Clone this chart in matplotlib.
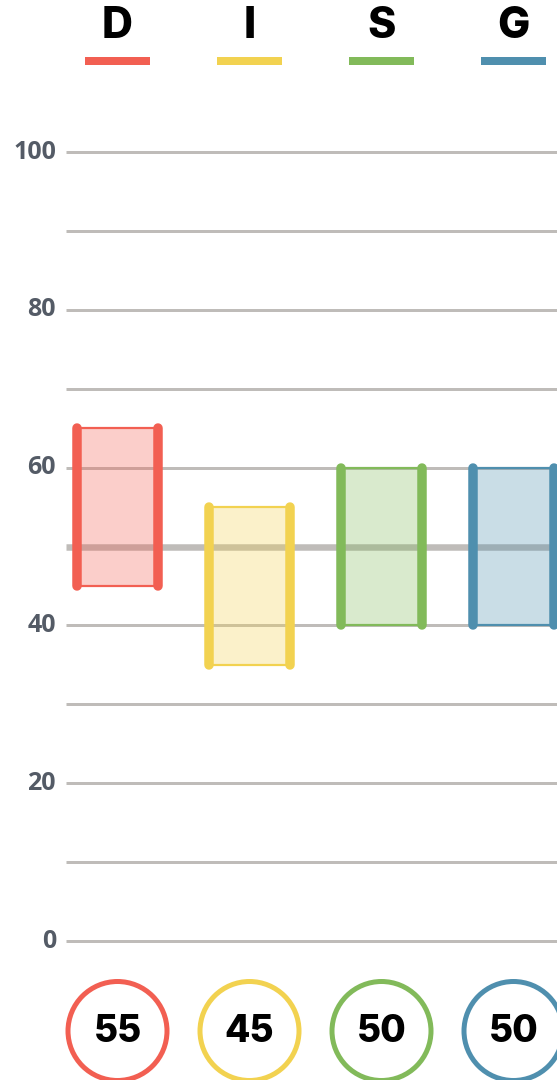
import matplotlib
matplotlib.use("Agg")
import matplotlib.pyplot as plt
from matplotlib.patches import Rectangle

# ---- data ----
categories = ["D", "I", "S", "G"]
lows = [45, 35, 40, 40]
highs = [65, 55, 60, 60]
scores = [55, 45, 50, 50]
tick_values = [0, 20, 40, 60, 80, 100]
grid_values = [0, 10, 20, 30, 40, 60, 70, 80, 90, 100]
midline_value = 50
colors = ["#f25f52", "#f2d250", "#82ba5a", "#4f8fae"]

# ---- layout (pixel based) ----
W, H, DPI = 557, 1080, 100
PX_PER_CAT = 132.0
X0_PX = 117.5          # centre of first category
Y0_PX = 941.0          # pixel row of value 0
PX_PER_VAL = 7.89

def xu(px):
    return (px - X0_PX) / PX_PER_CAT

def yu(py):
    return (Y0_PX - py) / PX_PER_VAL

pt = 72.0 / DPI  # points per pixel

fig = plt.figure(figsize=(W / DPI, H / DPI), dpi=DPI)
ax = fig.add_axes([0, 0, 1, 1])
ax.set_xlim(xu(0), xu(W))
ax.set_ylim(yu(H), yu(0))
ax.axis("off")

grid_color = "#bfbcb9"
# grid lines
ax.hlines(grid_values, xu(66), xu(W), colors=grid_color, linewidth=3 * pt, zorder=1)
ax.hlines([midline_value], xu(66), xu(W), colors=grid_color, linewidth=6.5 * pt, zorder=1)

# tick labels
for v in tick_values:
    ax.text(xu(56), v, str(v), ha="right", va="center", fontsize=25 * pt,
            fontweight="bold", color="#545b66", family=["Open Sans", "DejaVu Sans"])

half = 40.75 / PX_PER_CAT
for i, (lo, hi, c) in enumerate(zip(lows, highs, colors)):
    ax.add_patch(Rectangle((i - half, lo), 2 * half, hi - lo, facecolor=c, alpha=0.3,
                           edgecolor="none", zorder=2))
    ax.add_patch(Rectangle((i - half, lo), 2 * half, hi - lo, facecolor="none",
                           edgecolor=c, linewidth=2.2 * pt, zorder=3))
    for xs in (i - half, i + half):
        ax.plot([xs, xs], [lo, hi], color=c, linewidth=9.5 * pt, solid_capstyle="round",
                zorder=4)

# header letters and underlines
for i, (cat, c) in enumerate(zip(categories, colors)):
    ax.text(i, yu(27), cat, ha="center", va="center", fontsize=43 * pt,
            fontweight="heavy", color="black", family=["Inter", "DejaVu Sans"])
    ax.plot([i - 32.5 / PX_PER_CAT, i + 32.5 / PX_PER_CAT], [yu(61), yu(61)], color=c,
            linewidth=8 * pt, solid_capstyle="butt")

# score circles
xs_idx = list(range(len(scores)))
ax.scatter(xs_idx, [yu(1031)] * len(scores), s=(99 * pt) ** 2, facecolors="white",
           edgecolors=colors, linewidths=5 * pt, zorder=5, clip_on=False)
for i, s in enumerate(scores):
    ax.text(i, yu(1032), str(s), ha="center", va="center", fontsize=37 * pt,
            fontweight="heavy", color="black", family=["Inter", "DejaVu Sans"], zorder=6)

fig.savefig("out.png", dpi=DPI)
